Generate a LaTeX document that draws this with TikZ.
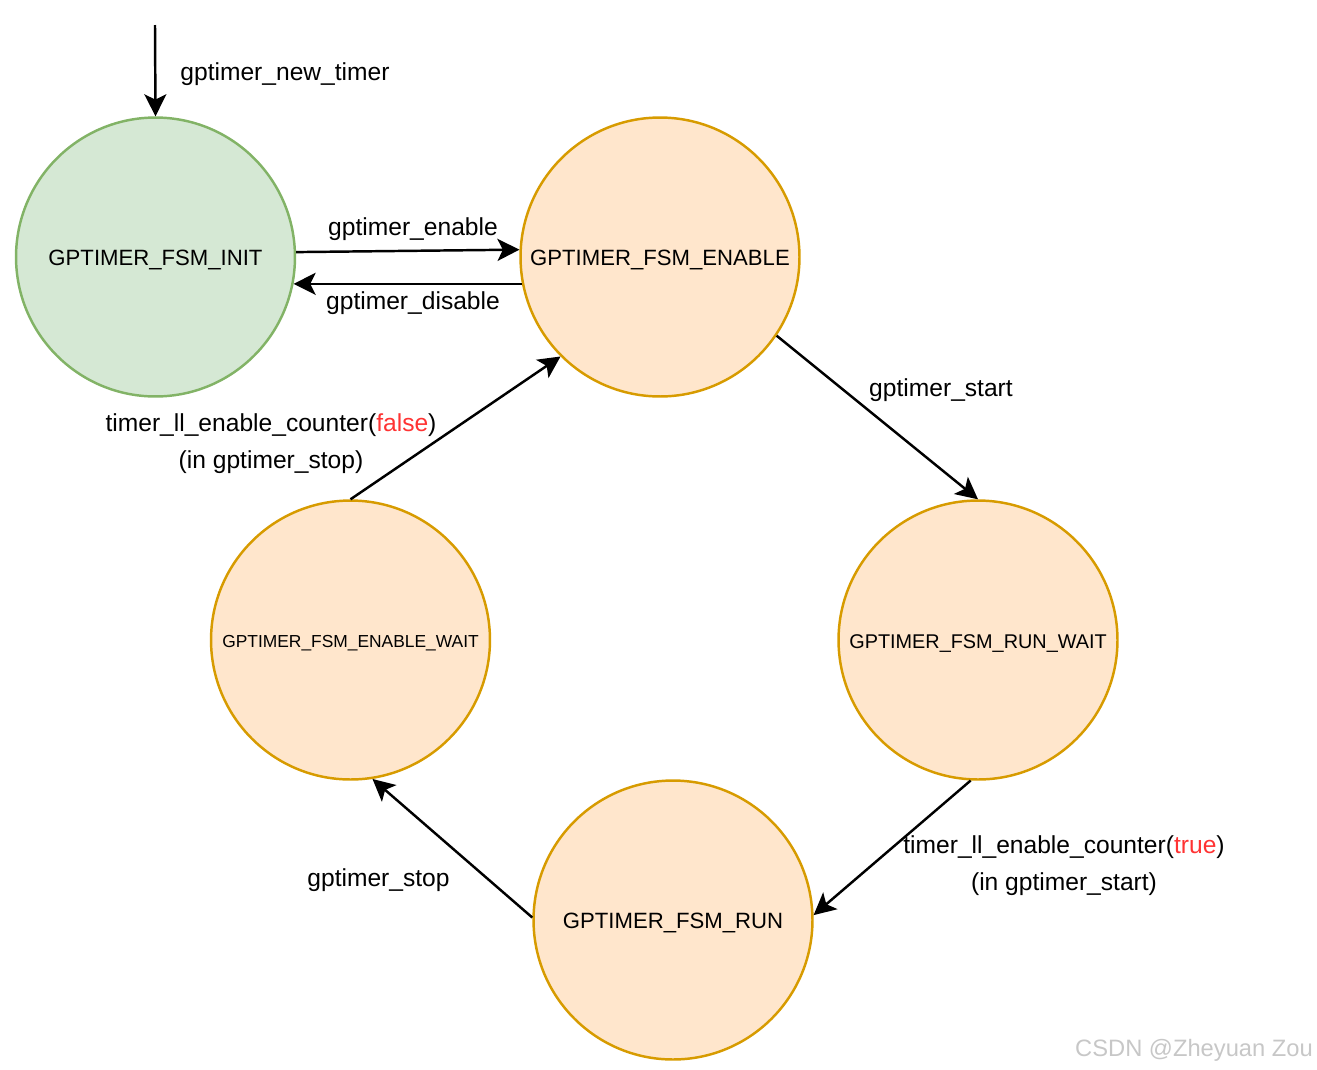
\documentclass[tikz,border=0pt]{standalone}
\usepackage{fontspec}
\setmainfont{Liberation Sans}
\usetikzlibrary{arrows.meta}
\definecolor{initfill}{HTML}{D5E8D4}
\definecolor{initline}{HTML}{82B366}
\definecolor{stfill}{HTML}{FFE6CC}
\definecolor{stline}{HTML}{D79B00}
\definecolor{redtxt}{HTML}{FF3333}
\newcommand{\stxt}[1]{\raisebox{-1.2pt}{\makebox[0pt]{#1}}}
\tikzset{
  state/.style={circle, draw=stline, fill=stfill, line width=1.4pt, minimum size=5.58cm, inner sep=0pt, text depth=0pt, font=\fontsize{12.6}{15}\selectfont},
  initstate/.style={state, draw=initline, fill=initfill},
  conn/.style={line width=1.4pt, -{Stealth[length=12.5pt,width=12.5pt,inset=3pt]}},
  lbl/.style={font=\fontsize{14}{21}\selectfont, inner sep=0pt, align=center},
}
\begin{document}
\begin{tikzpicture}[x=0.02cm, y=-0.02cm]
\useasboundingbox (0,0) rectangle (1317,1069);
\node[initstate] (init) at (155.5,257) {\stxt{GPTIMER\_FSM\_INIT}};
\node[state] (enable) at (660,257) {\stxt{GPTIMER\_FSM\_ENABLE}};
\node[state, font=\fontsize{9.9}{12}\selectfont] (ewait) at (350.5,640) {\stxt{GPTIMER\_FSM\_ENABLE\_WAIT}};
\node[state, font=\fontsize{11.3}{14}\selectfont] (rwait) at (978,640) {\stxt{GPTIMER\_FSM\_RUN\_WAIT}};
\node[state] (run) at (673,920) {\stxt{GPTIMER\_FSM\_RUN}};
\coordinate (start) at (155,25);

\draw[conn] (start) -- (init.north);
\draw[conn] (init.2.5) -- (enable.177.5);
\draw[conn] (enable.191.1) -- (init.-11.1);
\draw[conn] (enable.-34.7) -- (rwait.north);
\draw[conn] (rwait.-93.7) -- (run.2.4);
\draw[conn] (run.179.2) -- (ewait.-81.1);
\draw[conn] (ewait.north) -- (enable.225.3);

\node[lbl, anchor=base] (l1) at (285,80) {gptimer\_new\_timer};
\node[lbl, anchor=base] (l2) at (413,235) {gptimer\_enable};
\node[lbl, anchor=base] (l3) at (413,309) {gptimer\_disable};
\node[lbl, anchor=base] (l4) at (941,396) {gptimer\_start};
\node[lbl] (l5) at (271,443.5) {timer\_ll\_enable\_counter(\textcolor{redtxt}{false})\\(in gptimer\_stop)};
\node[lbl] (l6) at (1064,866) {timer\_ll\_enable\_counter(\textcolor{redtxt}{true})\\(in gptimer\_start)};
\node[lbl, anchor=base] (l7) at (378.5,886) {gptimer\_stop};
\node[anchor=base, inner sep=0pt, text=black!22, font=\fontsize{13.5}{16}\selectfont] (wm) at (1194,1056) {CSDN @Zheyuan Zou};
\end{tikzpicture}
\end{document}
